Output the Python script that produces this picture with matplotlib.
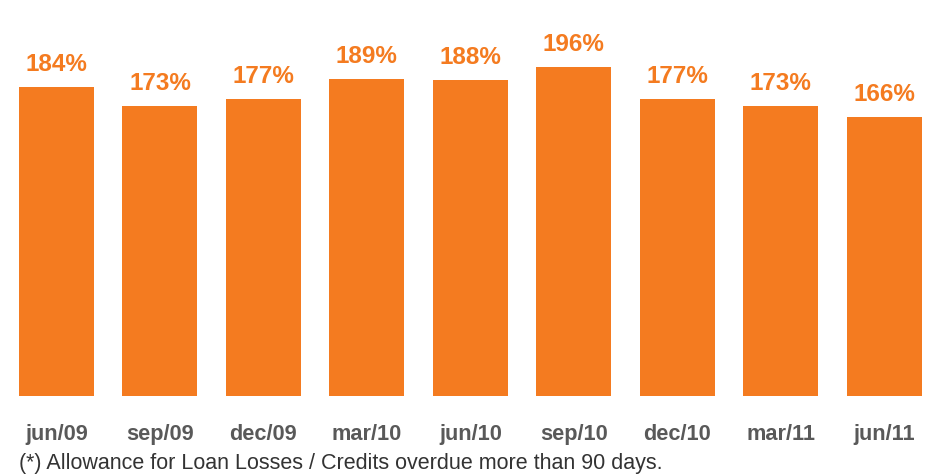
import matplotlib
matplotlib.use("Agg")
import matplotlib.pyplot as plt

periods = ["jun/09", "sep/09", "dec/09", "mar/10", "jun/10",
           "sep/10", "dec/10", "mar/11", "jun/11"]
ratios = [184, 173, 177, 189, 188, 196, 177, 173, 166]

ORANGE = "#F47B20"

plt.rcParams["font.family"] = ["Liberation Sans", "DejaVu Sans"]

W, H = 943, 476
fig = plt.figure(figsize=(W / 100, H / 100), dpi=100)
# axes placed in pixel terms: baseline at y=396, bars pitch ~103.5 px
ax = fig.add_axes([4.75 / W, (H - 396) / H, (936 - 4.75) / W, 386 / H])

x = range(len(periods))
bars = ax.bar(x, ratios, width=0.725, color=ORANGE)
for b, v in zip(bars, ratios):
    ax.annotate(f"{v}%", (b.get_x() + b.get_width() / 2, v),
                xytext=(0, 8), textcoords="offset points",
                ha="center", va="bottom", fontsize=17.5, fontweight="bold",
                color=ORANGE)

ax.set_xlim(-0.5, len(periods) - 0.5)
ax.set_ylim(0, 230)
ax.set_xticks(list(x))
ax.set_xticklabels(periods, fontsize=15.7, fontweight="bold", color="#595959")
ax.tick_params(axis="x", length=0, pad=20)
ax.set_yticks([])
for s in ax.spines.values():
    s.set_visible(False)

fig.text(19 / W, 1 - 464 / H,
         "(*) Allowance for Loan Losses / Credits overdue more than 90 days.",
         ha="left", va="center", fontsize=15.5, color="#333333")

fig.savefig("out.png", dpi=100)
